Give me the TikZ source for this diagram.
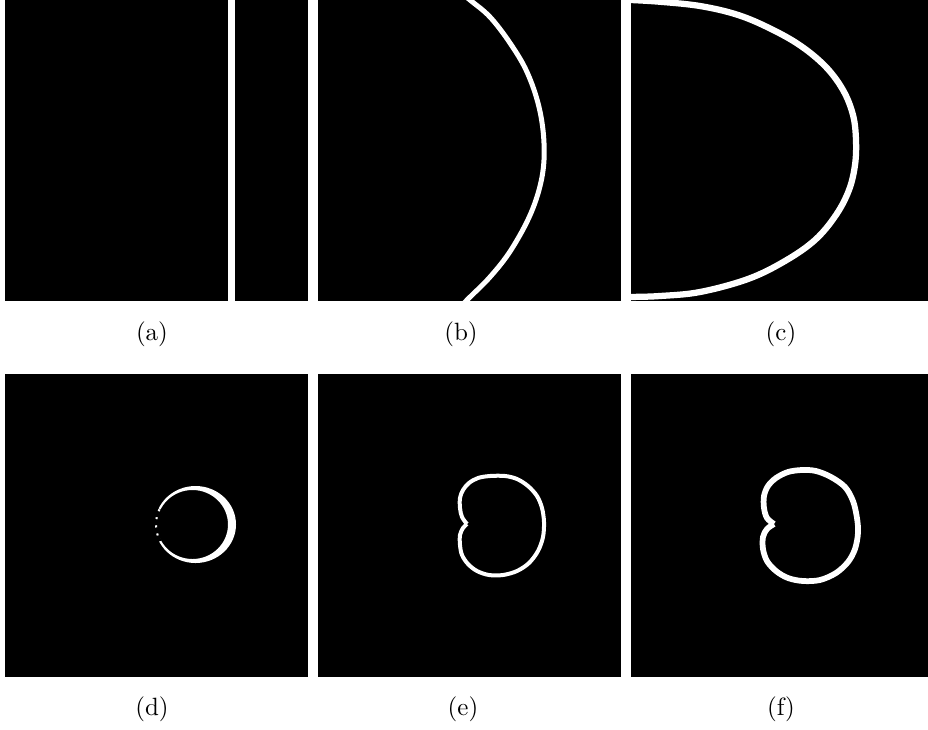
\documentclass[tikz,border=0pt]{standalone}
\begin{document}
\begin{tikzpicture}[x=0.4pt,y=-0.4pt,
  panel/.style={fill=black},
  wcurve/.style={draw=white, line join=round},
  lab/.style={inner sep=0pt, font=\normalsize}]
\useasboundingbox[fill=white] (0,0) rectangle (928,729);

% ---------- (a)
\fill[panel] (5,0) rectangle (308,301);
\fill[white] (228,0) rectangle (234.5,301);

% ---------- (b)
\fill[panel] (318,0) rectangle (621,301);
\begin{scope}
\clip (318,0) rectangle (621,301);
\draw[wcurve, line width=2pt] plot[smooth, tension=0.6] coordinates {
 (450,-16) (470,0) (490,17) (510,43) (527,72) (539,107) (544,143) (542,177)
 (531,213) (511,250) (490,277) (467,300) (452,316)};
\end{scope}

% ---------- (c)
\fill[panel] (631,0) rectangle (928,301);
\begin{scope}
\clip (631,0) rectangle (928,301);
\draw[wcurve, line width=2.5pt] plot[smooth, tension=0.6] coordinates {
 (600,-1) (631,0) (663,2) (700,6) (735,14) (765,26) (798,44) (825,66)
 (843,90) (853,115) (856,140) (855,165) (849,190) (836,215) (815,240)
 (785,261) (748,279) (700,292) (660,296) (631,297) (600,298)};
\end{scope}

% ---------- (d)
\fill[panel] (5,374) rectangle (308,677);
\fill[white, even odd rule] (195.5,524.5) ellipse [x radius=40.5, y radius=38.5]
  (192.5,524.5) ellipse [x radius=35.5, y radius=34.5];
\draw[black, line width=1.6pt, dash pattern=on 2.4pt off 0.9pt]
  (195.5,524.5) ++(155:39.5) arc[start angle=155, end angle=205, x radius=39.5, y radius=38];

% ---------- (e)
\fill[panel] (318,374) rectangle (621,677);
\draw[wcurve, line width=1.6pt] plot[smooth, tension=0.55] coordinates {
 (467,524) (462,517) (460,508) (460,498) (463,490) (469,483) (478,478)
 (490,476) (505,476) (517,479) (528,486) (537,496) (542,508) (544,522)
 (543,537) (538,551) (529,563) (517,571) (503,575) (489,575) (477,571)
 (468,564) (462,555) (460,545) (460,535) (463,528) (467,524)};

% ---------- (f)
\fill[panel] (631,374) rectangle (928,677);
\draw[wcurve, line width=2.3pt] plot[smooth, tension=0.55] coordinates {
 (774,524) (767,518) (764,508) (764,496) (768,486) (776,478) (788,472)
 (802,470) (816,471) (831,477) (845,487) (853,501) (857,518) (858,533)
 (855,549) (848,562) (836,573) (820,580) (803,581) (788,578) (776,571)
 (767,561) (763,549) (763,537) (767,529) (774,524)};

% ---------- labels
\node[lab] (la) at (152,334) {(a)};
\node[lab] (lb) at (461,334) {(b)};
\node[lab] (lc) at (781,334) {(c)};
\node[lab] (ld) at (152,709) {(d)};
\node[lab] (le) at (463,709) {(e)};
\node[lab] (lf) at (781,709) {(f)};
\end{tikzpicture}
\end{document}
